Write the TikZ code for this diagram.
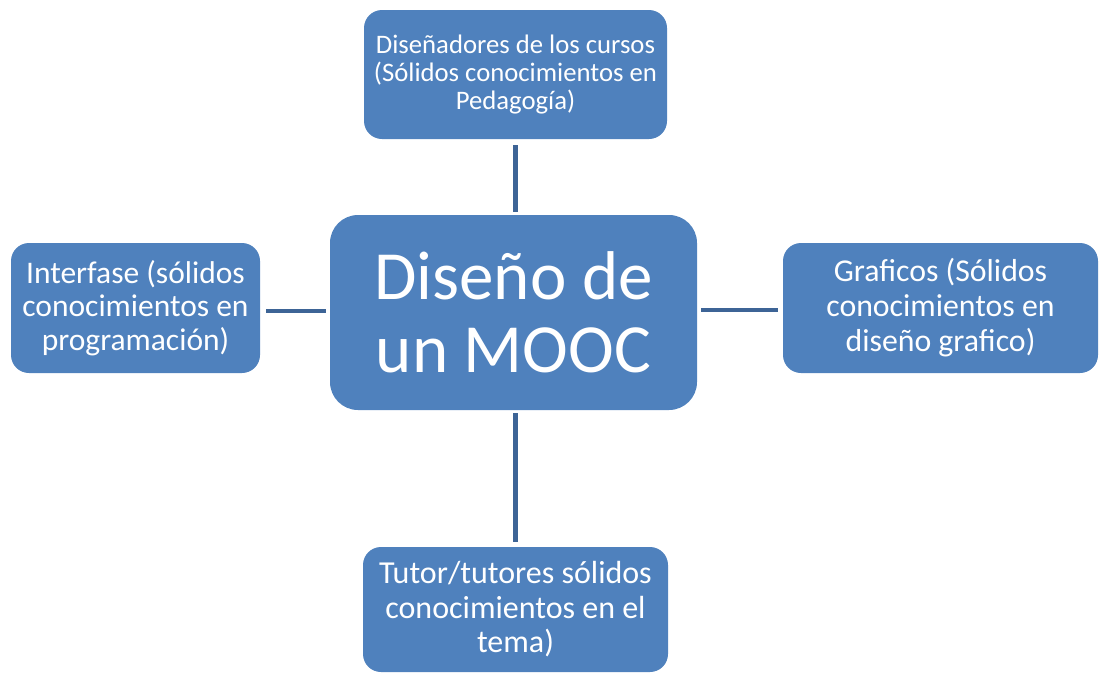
\documentclass[tikz,border=0pt]{standalone}
\usepackage{fontspec}
\setmainfont{Carlito}
\definecolor{boxblue}{HTML}{4F81BD}
\definecolor{lineblue}{HTML}{3D6496}
\begin{document}
\begin{tikzpicture}[x=1pt,y=-1pt,
  box/.style={fill=boxblue, draw=none, rounded corners=#1, text=white, align=center, inner sep=0pt},
  conn/.style={draw=lineblue, line width=4.5pt}]
\useasboundingbox (0,0) rectangle (1099,673);
\node[box=18pt, minimum width=303pt, minimum height=129pt, font=\fontsize{26.7}{28}\selectfont] (top) at (515.5,74.5)
  {Diseñadores de los cursos\\(Sólidos conocimientos en\\Pedagogía)};
\node[box=18pt, minimum width=249pt, minimum height=130pt, font=\fontsize{31.5}{33.5}\selectfont] (left) at (135.5,308)
  {Interfase (sólidos\\conocimientos en\\programación)};
\node[box=18pt, minimum width=315pt, minimum height=130pt, font=\fontsize{31.8}{35}\selectfont] (right) at (940.5,308)
  {Graficos (Sólidos\\conocimientos en\\diseño grafico)};
\node[box=18pt, minimum width=305pt, minimum height=125pt, font=\fontsize{32}{34.5}\selectfont] (bottom) at (515.5,609.5)
  {Tutor/tutores sólidos\\conocimientos en el\\tema)};
\node[box=28pt, minimum width=367pt, minimum height=195pt, font=\fontsize{69}{73}\selectfont] (center) at (513.5,312.5)
  {Diseño de\\un MOOC};
\draw[conn, shorten <=6pt, shorten >=3pt] (top.south) -- (top.south |- center.north);
\draw[conn, shorten <=6pt, shorten >=4pt] ([yshift=-3pt]left.east) -- ([yshift=-3pt]left.east -| center.west);
\draw[conn, shorten <=4pt, shorten >=5pt] ([yshift=-2pt]center.east |- right.west) -- ([yshift=-2pt]right.west);
\draw[conn, shorten <=3pt, shorten >=5pt] (center.south -| bottom.north) -- (bottom.north);
\end{tikzpicture}
\end{document}
